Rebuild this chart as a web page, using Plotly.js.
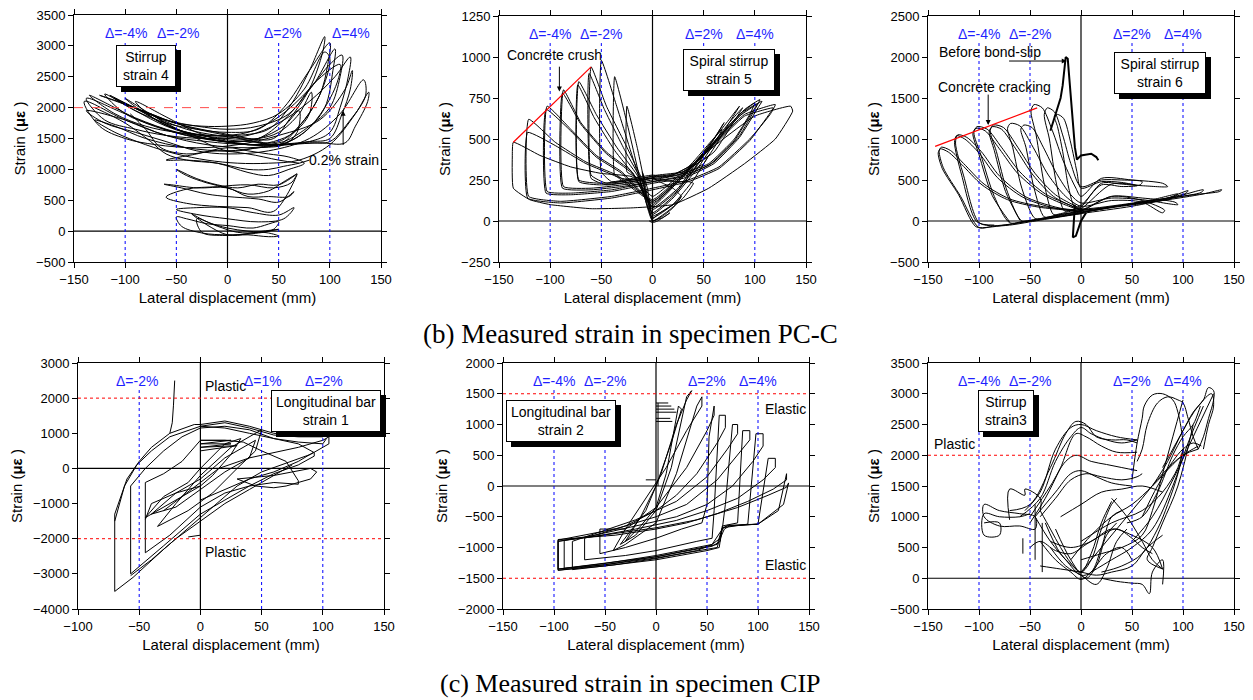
<!DOCTYPE html>
<html><head><meta charset="utf-8">
<script src="https://cdn.plot.ly/plotly-3.0.1.min.js"></script>
<style>body{margin:0;background:#fff}#c{width:1253px;height:700px}</style>
</head><body><div id="c"></div>
<script>
// ---------------- DATA ----------------
// Panel 1: PC-C stirrup strain 4
const p1LoopsX = [
 [-35,-20,0,20,40,50,40,20,0,-20,-35],
 [-30,-10,10,30,50,35,15,-5,-25,-30],
 [-50,-40,-20,0,25,50,45,25,0,-25,-45,-50],
 [-50,-30,0,25,50,65,55,30,0,-30,-50],
 [-62,-45,-20,0,30,50,65,60,40,20,0,-30,-55,-62],
 [-60,-40,-10,20,45,68,62,45,20,-10,-40,-60],
 [-50,-30,-10,10,30,50,68,55,40,20,0,-20,-40,-50],
 [-60,-40,-10,20,40,60,75,60,40,20,0,-30,-60],
 [-75,-50,-20,0,30,55,70,68,55,30,0,-30,-60,-75],
 [-90,-70,-40,0,30,50,70,82,80,65,45,20,0,-30,-60,-90],
 [-100,-80,-50,-20,10,40,60,80,95,93,80,60,45,20,-10,-40,-70,-100],
 [-115,-90,-60,-30,0,30,55,80,100,98,90,70,50,20,-10,-50,-80,-115],
 [-120,-100,-70,-40,0,30,55,85,105,103,95,75,50,20,-20,-60,-90,-120],
 [-135,-110,-80,-50,-10,20,50,80,100,112,110,100,80,55,30,0,-40,-80,-110,-135],
 [-138,-120,-90,-60,-20,20,50,80,105,120,118,110,100,80,50,20,-20,-60,-100,-138],
 [-140,-125,-100,-70,-30,10,50,90,115,122,120,112,100,80,50,20,-20,-60,-100,-140],
 [-138,-120,-90,-60,-30,0,40,80,110,133,135,120,100,80,50,20,-20,-60,-100,-138],
 [-130,-110,-80,-50,-20,10,40,70,100,125,138,137,125,115,90,60,30,0,-40,-80,-110,-130],
 [-125,-100,-75,-50,-25,0,25,50,75,95,100,90,70,50,25,0,-30,-60,-90,-125],
 [-110,-85,-60,-30,0,30,60,85,110,108,95,75,50,20,-10,-40,-70,-110],
 [-130,-100,-75,-60,-40,-10,20,40,55,70,80],
 [-95,-80,-65,-40,-10,20,50,70]
];
const p1LoopsY = [
 [280,150,50,0,-30,-80,-90,-60,-60,100,280],
 [200,80,-20,-20,30,0,-50,-70,-20,200],
 [230,200,120,90,50,150,30,-40,-60,-30,80,230],
 [350,380,380,300,260,380,200,150,200,270,350],
 [760,700,600,560,520,470,640,560,560,560,700,700,750,760],
 [550,450,400,380,320,920,780,700,750,720,680,550],
 [1000,850,750,700,760,750,930,800,650,600,700,780,900,1000],
 [1150,1150,1100,950,900,1000,1100,1200,1250,1300,1350,1250,1150],
 [1900,1650,1500,1450,1500,1700,1950,1600,1400,1350,1300,1500,1750,1900],
 [2100,1800,1600,1500,1500,1600,1900,2250,1900,1600,1450,1400,1450,1600,1850,2100],
 [2150,1900,1650,1550,1550,1650,2000,2600,3150,2900,2300,1800,1500,1500,1550,1650,1850,2150],
 [2200,1950,1750,1650,1600,1650,2000,2600,3050,2700,2200,1700,1450,1450,1500,1650,1900,2200],
 [2220,1900,1700,1550,1450,1500,1800,2400,2950,2600,2000,1600,1400,1400,1500,1700,1950,2220],
 [2200,1900,1700,1600,1550,1600,1850,2300,2700,2850,2500,2000,1700,1450,1400,1450,1550,1750,2000,2200],
 [2150,1800,1650,1550,1500,1550,1750,2100,2500,2820,2500,2000,1600,1450,1400,1400,1500,1650,1900,2150],
 [2100,1700,1500,1400,1350,1400,1550,1800,2300,2600,2300,1900,1500,1450,1400,1350,1400,1550,1800,2100],
 [1950,1750,1600,1450,1300,1250,1300,1500,1900,2450,2200,1800,1450,1430,1400,1400,1450,1550,1800,1950],
 [1800,1600,1400,1250,1150,1100,1100,1150,1400,1900,2250,2100,1700,1430,1430,1400,1350,1300,1350,1500,1700,1800],
 [2200,2050,1900,1750,1700,1700,1750,1900,2300,2900,2800,2200,1700,1400,1450,1550,1650,1800,2000,2200],
 [2150,1950,1800,1700,1650,1700,1900,2400,2700,2450,2000,1600,1400,1500,1600,1700,1850,2150],
 [2000,1750,1450,1250,1150,1100,1000,1000,1050,1100,1150],
 [1900,1650,1350,1250,1300,1250,1150,1100]
];

// Panel 2: PC-C spiral stirrup strain 5
const p2LoopsX = [
 [0,5,10,17,15,10,5,0,-3,0],
 [-10,-5,0,10,20,28,25,15,5,0,-5,-10],
 [0,10,20,28,20,10,0,-10,-20,-25,-25,-15,-5,0],
 [0,15,30,40,35,20,0,-15,-30,-37,-37,-25,-10,0],
 [0,20,40,55,50,35,15,0,-20,-40,-50,-50,-35,-15,0],
 [0,20,45,65,70,60,40,20,0,-20,-45,-60,-60,-45,-25,-10,0],
 [0,25,50,75,85,75,55,30,5,-20,-50,-72,-72,-55,-35,-15,0],
 [0,25,55,85,100,95,80,55,25,0,-30,-60,-87,-87,-70,-45,-20,0],
 [0,30,60,90,105,100,85,60,30,0,-40,-80,-103,-103,-80,-55,-30,0],
 [0,30,60,90,120,115,95,65,35,0,-40,-90,-121,-121,-95,-65,-35,0],
 [0,30,65,100,135,137,120,90,55,20,-20,-60,-100,-120,-136,-137,-136,-110,-80,-50,-20,0],
 [0,20,45,65,68,55,35,15,0,-20,-45,-60,-62,-47,-27,-10,0],
 [0,25,50,75,88,80,60,30,5,-20,-50,-72,-73,-57,-37,-17,0],
 [0,25,55,85,102,97,80,55,25,0,-30,-60,-88,-88,-70,-45,-20,0],
 [0,30,60,90,107,103,85,60,30,0,-40,-80,-104,-104,-80,-55,-30,0],
 [0,30,60,90,118,115,95,65,35,0,-40,-90,-122,-122,-95,-65,-35,0]
];
const p2LoopsY = [
 [0,10,20,50,40,20,0,-10,0,0],
 [300,200,30,60,100,150,120,80,40,10,100,300],
 [0,30,80,150,200,230,260,250,280,300,700,450,150,0],
 [0,60,140,230,240,240,260,250,260,280,880,600,200,0],
 [20,100,250,400,350,300,270,280,260,240,300,980,700,300,20],
 [50,150,350,550,600,500,350,280,270,250,230,280,940,700,450,250,50],
 [80,200,420,620,700,600,400,300,280,250,230,250,850,650,450,280,80],
 [100,250,450,650,720,650,500,350,280,250,220,200,210,800,600,420,300,100],
 [120,280,480,680,740,680,520,360,270,240,190,170,180,700,560,400,300,120],
 [130,290,470,650,710,650,500,330,250,200,150,120,150,620,480,360,280,130],
 [150,300,480,640,700,670,500,350,200,100,80,75,100,130,200,390,480,400,330,290,270,150],
 [40,140,330,520,560,470,330,270,260,240,220,260,900,680,430,240,40],
 [70,190,400,600,690,610,420,300,270,240,220,240,830,630,430,270,70],
 [90,240,440,640,710,660,490,340,270,240,210,190,200,780,590,410,290,90],
 [110,270,470,670,730,690,510,350,260,230,180,160,170,680,550,390,290,110],
 [120,280,460,640,690,660,490,320,240,190,140,110,140,540,460,350,270,120]
];

// Panel 3: PC-C spiral stirrup strain 6
const p3LoopsX = [
 [0,-40,-70,-85,-100,-118,-135,-139,-137,-128,-115,-95,-70,-40,-10,0,40,80,120,138,136,110,70,30,0],
 [0,-45,-75,-90,-103,-120,-136,-140,-138,-130,-117,-97,-72,-42,-12,0],
 [0,-40,-70,-85,-100,-115,-123,-121,-112,-98,-80,-55,-25,0,40,80,120,118,90,50,0],
 [-85,-102,-117,-124,-122,-114,-100,-82,-57,-27,0],
 [0,-30,-55,-70,-85,-98,-105,-102,-92,-78,-60,-35,-10,0,40,80,105,103,80,40,0],
 [-70,-87,-100,-106,-103,-94,-80,-62,-37,-12,0],
 [0,-25,-45,-58,-72,-83,-89,-86,-76,-62,-45,-25,-5,0,40,70,95,92,70,35,0],
 [-60,-74,-85,-90,-87,-78,-64,-47,-27,-7,0],
 [0,-20,-35,-45,-58,-67,-72,-69,-60,-47,-32,-15,0,30,60,80,82,60,30,0],
 [0,-15,-28,-36,-46,-54,-59,-56,-48,-37,-24,-10,0,30,60,95,92,60,30,0],
 [0,-10,-20,-27,-36,-44,-49,-46,-38,-28,-17,-5,0,20,50,80,85,60,30,0],
 [0,-8,-16,-24,-31,-36,-33,-26,-18,-10,0,20,40,60,58,40,20,0],
 [0,-6,-12,-18,-23,-26,-23,-17,-10,-4,0,20,40,55,40,20,0]
];
const p3LoopsY = [
 [100,20,-40,-60,-80,300,650,850,900,860,700,450,270,180,140,130,190,250,330,380,360,320,250,170,100],
 [90,10,-50,-75,-70,320,640,830,880,840,690,440,260,170,130,110],
 [90,10,-50,-60,-20,550,950,1050,1020,850,550,300,170,120,180,250,380,350,280,180,90],
 [-50,-10,560,960,1040,1000,830,530,290,160,110],
 [100,40,0,-20,300,800,1080,1150,1120,900,600,330,190,140,190,260,370,340,270,190,100],
 [-10,310,810,1070,1130,1100,880,580,320,180,130],
 [110,60,20,0,350,850,1100,1170,1140,900,580,320,180,150,200,260,330,300,250,180,110],
 [10,360,860,1090,1150,1120,880,560,300,170,140],
 [120,80,40,30,400,900,1130,1190,1160,900,560,300,180,250,230,100,130,250,300,120],
 [130,90,60,50,400,900,1120,1170,1140,900,580,320,220,280,260,200,230,280,300,130],
 [150,120,90,80,450,1050,1340,1420,1380,1100,720,400,300,520,500,460,420,430,450,150],
 [170,140,120,450,1000,1300,1380,1330,1050,700,420,500,500,480,440,450,460,170],
 [190,170,400,850,1150,1280,1300,1250,950,600,400,480,470,430,420,440,190]
];
const p3SlipX = [-30,-25,-20,-18,-16,-15,-13,-10,-6,-4,0,10,15,17, null, -6,-8,-5,0,5];
const p3SlipY = [1100,1300,1500,1650,1950,2000,1980,1500,900,750,800,820,780,740, null, 200,-200,-180,0,100];

// Panel 4: CIP longitudinal bar strain 1
const p4LoopsX = [
 [-25,-23,-22,-21],
 [-70,-60,-50,-40,-25,-5,0,20,40,60,80,105,105,90,70,50,30,0,-30,-55,-70,-70],
 [-57,-45,-30,-15,0,20,40,60,80,93,93,80,60,40,20,0,-30,-57,-57],
 [-45,-30,-15,0,20,35,50,70,80,80,60,40,20,0,-25,-45,-45],
 [-45,-30,-10,0,20,33,25,10,0,-20,-45],
 [-40,-20,0,20,45,40,20,0,-20,-40],
 [-35,-20,0,25,50,45,30,10,-10,-35],
 [30,45,60,70,80,90,95,90,75,60,45,30],
 [-45,-40,-20,0,0,-10],
 [0,25,0,25,0,30,0],
 [-30,-15,0,15,40,60,80,100,105],
 [0,20,40,60,80,100,103],
 [-70,-62,-52,-40,-25,-5,0,20,40,60,80,100,103],
 [-57,-40,-20,0,20,40,60,75],
 [0,20,40,60,80,92]
];
const p4LoopsY = [
 [1000,1300,1800,2500],
 [-1300,-300,200,600,1000,1250,1250,1350,1200,1000,950,950,700,400,150,-100,-500,-1400,-2300,-3100,-3500,-1300],
 [-500,0,500,900,1150,1200,1100,850,700,450,350,100,-150,-500,-900,-1300,-2200,-3000,-500],
 [-400,-150,200,800,800,750,500,200,-350,-450,-400,-500,-700,-1100,-1900,-2400,-400],
 [-1400,-800,-400,0,700,850,400,-200,-500,-900,-1400],
 [-1300,-700,-300,300,800,300,-100,-600,-1100,-1300],
 [-1650,-1000,-200,600,1100,500,0,-700,-1200,-1650],
 [-300,-500,-550,-500,-400,-300,-100,0,-100,-200,-250,-300],
 [-1450,-1000,-700,-500,-1900,-1950],
 [800,800,700,700,600,650,500],
 [-1200,-800,-400,0,300,450,600,800,900],
 [1200,1150,1000,850,750,700,850],
 [-1500,-500,100,500,900,1150,1200,1300,1150,950,900,900,950],
 [-3050,-2600,-2000,-1500,-1000,-600,-200,100],
 [-900,-600,-300,-100,200,450]
];

// Panel 5: CIP longitudinal bar strain 2
const p5LoopsX = [
 [-30,-15,0,10,22,25,15,0,-15,-30],
 [-35,-20,0,15,30,35,30,20,5,-10,-35],
 [-42,-30,0,20,40,45,45,30,10,-10,-30,-42],
 [-55,-55,-30,0,25,45,50,52,57,57,50,30,0,-30,-55],
 [-70,-70,-30,0,40,55,57,62,68,68,60,40,20,0,-30,-70],
 [-82,-82,-40,0,40,55,65,68,75,80,80,70,50,20,-20,-82],
 [-96,-96,-50,0,50,62,65,80,85,92,92,80,60,30,0,-40,-96],
 [-96,-96,-50,0,55,63,65,90,98,105,105,95,75,50,20,-20,-60,-96],
 [-90,-90,-50,0,55,63,67,72,100,110,117,117,105,80,50,20,-20,-60,-90],
 [-96,-96,-50,0,60,65,70,100,120,128,128,115,90,60,30,0,-40,-96],
 [-96,-50,0,60,65,70,100,125,130,128,110,80,40,0,-50,-96]
];
const p5LoopsY = [
 [-900,-650,-350,200,1300,1250,700,0,-500,-900],
 [-950,-800,-400,300,1450,1550,1400,1000,200,-400,-950],
 [-1050,-950,-600,200,1300,1450,1300,900,300,-200,-700,-1050],
 [-700,-1100,-1000,-850,-700,-600,-300,800,1300,1150,900,300,-350,-700,-700],
 [-850,-1200,-1130,-1050,-900,-850,-400,1150,1150,950,700,200,-150,-400,-650,-850],
 [-900,-1360,-1280,-1180,-1050,-950,-700,-300,1000,1000,850,600,150,-250,-550,-900],
 [-880,-1370,-1300,-1200,-1050,-1000,-650,-600,900,900,750,500,100,-300,-500,-700,-880],
 [-900,-1350,-1280,-1150,-980,-900,-680,-620,850,850,650,400,0,-300,-500,-650,-800,-900],
 [-880,-1340,-1260,-1130,-950,-850,-700,-650,-620,450,450,300,100,-200,-400,-560,-700,-820,-880],
 [-870,-1370,-1280,-1170,-1000,-700,-640,-620,-400,200,100,-50,-250,-450,-600,-700,-800,-870],
 [-1350,-1250,-1150,-950,-680,-650,-620,-300,50,-20,-150,-350,-550,-680,-800,-900]
];
const p5LadderX = [0,12,null,0,15,null,0,18,null,0,20,null,0,14,null,0,16,null,-10,0,null,2,2];
const p5LadderY = [1350,1350,null,1300,1300,null,1250,1250,null,1200,1200,null,1100,1100,null,1050,1050,null,100,100,null,0,1350];

// Panel 6: CIP stirrup strain 3
const p6LoopsX = [
 [-70,-50,-30,-15,-5,5,15,30,45,55],
 [-60,-40,-25,-10,0,10,25,40,55],
 [-50,-35,-20,-5,5,20,35,55],
 [-50,-30,-15,-5,10,25,40,55],
 [-45,-25,-10,0,15,30,50],
 [-55,-40,-25,-10,0,15,35,55],
 [-40,-25,-10,5,20,40,55,60],
 [50,55,60,62,70,80,90,95,100,100],
 [55,60,65,75,85,95,100,105,110,115],
 [80,90,100,110,120,125,130,130,125,120,115],
 [70,85,100,115,128,130,125,120],
 [60,75,90,100,110,118],
 [45,60,75,90,100,110,115,117],
 [100,90,80,70,60,40,20,0],
 [120,105,90,70,50,30,10],
 [130,110,90,70,50],
 [110,95,80,70,65,80],
 [100,95,85,75,60,40,20],
 [0,20,40,60,80,100,115],
 [-10,10,30,50,70,90,100,115],
 [0,30,60,80,95,100],
 [20,35,50,60,67,70,80,80],
 [-40,-30,-20,-10,0,10,20,30,35],
 [-45,-30,-15,0,10,20,30,40],
 [-35,-20,-5,5,15,25,35],
 [-40,-25,-10,0,10,25,40,50],
 [-30,-15,0,15,25,35,45],
 [-50,-40,-25,-10,5,20,35,50,60,70],
 [-40,-20,0,15,30,50,65,80],
 [-20,0,20,40,60,80],
 [30,45,60,70,80],
 [-30,-10,10,30,50,70,80],
 [-25,-10,0,10,20,30],
 [-95,-95,-80,-60,-45,-45,-60,-80,-95],
 [-95,-80,-80,-95,-95,-80,-60,-50],
 [-70,-70,-55,-55,-40,-40],
 [-57,-57],
 [-45,-45],
 [-38,-38]
];
const p6LoopsY = [
 [1100,1200,1800,2350,2550,2500,2300,2250,2250,2200],
 [1000,1300,1900,2300,2450,2350,2250,2200,2250],
 [900,1300,1800,2350,2300,2150,2050,2050],
 [1000,1500,1900,2000,1900,1850,1800,1750],
 [1000,1400,1700,1750,1650,1550,1500],
 [1100,1400,2100,2450,2500,2400,2300,2250],
 [1000,1300,1600,1700,1650,1600,1650,1700],
 [1600,2200,2600,2800,2980,3000,2900,2700,2200,2000],
 [1900,2100,2500,2850,2950,2900,2850,2600,2300,2100],
 [1800,2100,2400,2700,2900,3100,3050,2900,2600,2300,2100],
 [1500,1900,2400,2800,3000,2800,2500,2100],
 [1000,1500,1900,2100,2200,2150],
 [900,1000,1400,2000,2300,2500,2700,2800],
 [2900,2300,1700,1100,700,500,400,300],
 [2800,2200,1500,800,500,300,100],
 [3000,2300,1600,1000,600],
 [2500,1500,900,500,300,150],
 [2100,1700,1200,800,400,200,100],
 [100,500,900,1300,1700,2000,2100],
 [300,700,1000,1200,1500,1850,2000,2150],
 [600,900,1100,1400,1800,2100],
 [0,-50,-80,-100,-250,100,300,-100],
 [1100,800,500,250,100,300,800,1200,1300],
 [1000,600,300,50,100,500,1000,1100],
 [900,400,150,0,200,700,900],
 [600,300,100,-20,100,400,500,300],
 [500,200,50,-100,150,600,800],
 [500,600,450,400,550,700,800,650,500,400],
 [200,150,100,50,100,200,500,700],
 [1000,1200,1400,1450,1500,1400],
 [1300,1000,600,300,150],
 [600,500,600,800,700,500,150],
 [800,300,100,400,900,1250],
 [1000,1200,1100,1050,1000,800,850,850,1000],
 [900,900,700,700,1050,1000,1000,1050],
 [950,1450,1350,1450,1300,1100],
 [400,650],
 [300,1200],
 [100,900]
];

// Guide values
const p1Blue = [-100,-50,50,100];
const p1Deltas = ['Δ=-4%','Δ=-2%','Δ=2%','Δ=4%'];
const p1DeltaX = [-99,-48,54,121];
const p4Blue = [-50,50,100];
const p4Deltas = ['Δ=-2%','Δ=1%','Δ=2%'];
const p4DeltaX = [-52,51,101];
const p2Crush = {x:[-136,-60], y:[480,940]};
const p3Crack = {x:[-143,-43], y:[910,1380]};

// ---------------- BUILD ----------------
const FONT = 'Liberation Sans, Arial, sans-serif';
const W = 1253, H = 700;
const panels = [
  {px:[74,381], py:[15,262], xr:[-150,150], yr:[-500,3500], dy:500},
  {px:[499,806], py:[16,262], xr:[-150,150], yr:[-250,1250], dy:250},
  {px:[928,1234], py:[16,262], xr:[-150,150], yr:[-500,2500], dy:500},
  {px:[78,384], py:[363,609], xr:[-100,150], yr:[-4000,3000], dy:1000},
  {px:[503,809], py:[363,609], xr:[-150,150], yr:[-2000,2000], dy:500},
  {px:[928,1234], py:[363,609], xr:[-150,150], yr:[-500,3500], dy:500}
];
const XA = ['x','x2','x3','x4','x5','x6'], YA = ['y','y2','y3','y4','y5','y6'];

function loopsTrace(lx, ly, i, shape, w, sm) {
  const x = [], y = [];
  lx.forEach((a, k) => { x.push(...a, null); y.push(...ly[k], null); });
  return {type:'scatter', mode:'lines', x, y, xaxis:XA[i], yaxis:YA[i],
    line:{color:'black', width:w||1, shape:shape||'linear', smoothing:sm||1},
    hoverinfo:'skip', showlegend:false, connectgaps:false};
}
const traces = [
  loopsTrace(p1LoopsX, p1LoopsY, 0, 'spline'),
  loopsTrace(p2LoopsX, p2LoopsY, 1, 'spline', 1, 0.4),
  loopsTrace(p3LoopsX, p3LoopsY, 2, 'spline', 1, 0.8),
  loopsTrace([p3SlipX], [p3SlipY], 2, 'linear', 2),
  loopsTrace(p4LoopsX, p4LoopsY, 3, 'linear'),
  loopsTrace(p5LoopsX, p5LoopsY, 4, 'linear'),
  loopsTrace([p5LadderX], [p5LadderY], 4, 'linear'),
  loopsTrace(p6LoopsX, p6LoopsY, 5, 'spline')
];

const layout = {width:W, height:H, margin:{l:0,r:0,t:0,b:0}, paper_bgcolor:'white', plot_bgcolor:'white',
  showlegend:false, shapes:[], annotations:[], font:{family:FONT, color:'black'}};

panels.forEach((p, i) => {
  const s = i === 0 ? '' : (i+1);
  layout['xaxis'+s] = {domain:[p.px[0]/W, p.px[1]/W], range:p.xr, dtick:50, tick0:0, anchor:YA[i],
    showline:true, linecolor:'black', linewidth:1, mirror:'ticks', ticks:'outside', ticklen:5, tickcolor:'black',
    showgrid:false, zeroline:false, tickfont:{family:FONT, size:13, color:'black'},
    title:{text:'Lateral displacement (mm)', font:{family:FONT, size:15, color:'black'}, standoff:6}};
  layout['yaxis'+s] = {domain:[1-p.py[1]/H, 1-p.py[0]/H], range:p.yr, dtick:p.dy, tick0:0, anchor:XA[i],
    showline:true, linecolor:'black', linewidth:1, mirror:'ticks', ticks:'outside', ticklen:5, tickcolor:'black',
    showgrid:false, zeroline:false, tickfont:{family:FONT, size:13, color:'black'},
    title:{text:'Strain (<b>με</b> )', font:{family:FONT, size:15, color:'black'}, standoff:6}};
  layout.shapes.push({type:'line', xref:XA[i]+' domain', yref:YA[i], x0:0, x1:1, y0:0, y1:0, line:{color:'black', width:1.2}});
  layout.shapes.push({type:'line', xref:XA[i], yref:YA[i]+' domain', x0:0, x1:0, y0:0, y1:1, line:{color:'black', width:1.2}});
  const blues = i === 3 ? p4Blue : p1Blue;
  const labs = i === 3 ? p4Deltas : p1Deltas;
  const lx = i === 3 ? p4DeltaX : (i === 0 ? p1DeltaX : p1Blue);
  blues.forEach(v => layout.shapes.push({type:'line', xref:XA[i], yref:YA[i]+' domain', x0:v, x1:v, y0:0, y1:0.89,
    line:{color:'#0000ff', width:1, dash:'dot'}}));
  labs.forEach((t, k) => layout.annotations.push({xref:XA[i], yref:YA[i]+' domain', x:lx[k], y:0.928, text:t,
    xanchor:'center', yanchor:'middle', showarrow:false, font:{family:FONT, size:14, color:'#1f1fff'}}));
});

function hline(i, v, dash, color) {
  layout.shapes.push({type:'line', xref:XA[i]+' domain', yref:YA[i], x0:0, x1:1, y0:v, y1:v, line:{color:color, width:1, dash:dash}});
}
hline(0, 2000, 'dash', '#ff4a4a');
hline(3, 2000, 'dot', '#ff0000'); hline(3, -2000, 'dot', '#ff0000');
hline(4, 1500, 'dot', '#ff0000'); hline(4, -1500, 'dot', '#ff0000');
hline(5, 2000, 'dot', '#ff0000');
layout.shapes.push({type:'line', xref:'x2', yref:'y2', x0:p2Crush.x[0], x1:p2Crush.x[1], y0:p2Crush.y[0], y1:p2Crush.y[1], line:{color:'#ff0000', width:1.2}});
layout.shapes.push({type:'line', xref:'x3', yref:'y3', x0:p3Crack.x[0], x1:p3Crack.x[1], y0:p3Crack.y[0], y1:p3Crack.y[1], line:{color:'#ff0000', width:1.2}});

// boxed labels: shadow is an empty box of the same fixed size
function box(i, x, y, text, w) {
  const base = {xref:XA[i], yref:YA[i], x:x, y:y, showarrow:false, borderpad:2, borderwidth:1,
    width:w, height:36, xanchor:'center', yanchor:'middle', font:{family:FONT, size:14, color:'black'}, align:'center', valign:'middle'};
  layout.annotations.push(Object.assign({}, base, {text:' ', bgcolor:'black', bordercolor:'black', xshift:5, yshift:-5}));
  layout.annotations.push(Object.assign({}, base, {text:text, bgcolor:'white', bordercolor:'black'}));
}
box(0, -80, 2670, 'Stirrup<br>strain 4', 54);
box(1, 75, 918, 'Spiral stirrup<br>strain 5', 86);
box(2, 77, 1805, 'Spiral stirrup<br>strain 6', 86);
box(3, 103, 1640, 'Longitudinal bar<br>strain 1', 104);
box(4, -93, 1050, 'Longitudinal bar<br>strain 2', 104);
box(5, -74, 2720, 'Stirrup<br>strain3', 50);

function txt(i, x, y, text, xanchor) {
  layout.annotations.push({xref:XA[i], yref:YA[i], x:x, y:y, text:text, showarrow:false, xanchor:xanchor||'center',
    yanchor:'middle', font:{family:FONT, size:14, color:'black'}});
}
function arrow(i, x0, y0, x1, y1) {
  layout.annotations.push({xref:XA[i], yref:YA[i], axref:XA[i], ayref:YA[i], x:x1, y:y1, ax:x0, ay:y0, text:'',
    showarrow:true, arrowhead:2, arrowsize:1, arrowwidth:1, arrowcolor:'black'});
}
txt(0, 114, 1150, '0.2% strain'); arrow(0, 113, 1370, 113, 1950);
txt(1, -96, 1012, 'Concrete crush'); arrow(1, -91, 950, -91, 790);
txt(2, -89, 2061, 'Before bond-slip'); arrow(2, -72, 1951, -14, 1951);
txt(2, -85, 1634, 'Concrete cracking'); arrow(2, -91, 1560, -91, 1170);
txt(3, 2, 2345, 'Plastic', 'left'); txt(3, 2, -2378, 'Plastic', 'left');
txt(4, 105, 1252, 'Elastic', 'left'); txt(4, 105, -1285, 'Elastic', 'left');
txt(5, -124, 2183, 'Plastic');

layout.annotations.push({xref:'paper', yref:'paper', x:630/W, y:1-334/H, xanchor:'center', yanchor:'middle',
  text:'(b) Measured strain in specimen PC-C',
  showarrow:false, font:{family:'Liberation Serif, Times New Roman, serif', size:27, color:'black'}});
layout.annotations.push({xref:'paper', yref:'paper', x:630/W, y:1-683/H, xanchor:'center', yanchor:'middle',
  text:'(c) Measured strain in specimen CIP',
  showarrow:false, font:{family:'Liberation Serif, Times New Roman, serif', size:26, color:'black'}});

Plotly.newPlot('c', traces, layout, {staticPlot:true, displayModeBar:false});
</script></body></html>
